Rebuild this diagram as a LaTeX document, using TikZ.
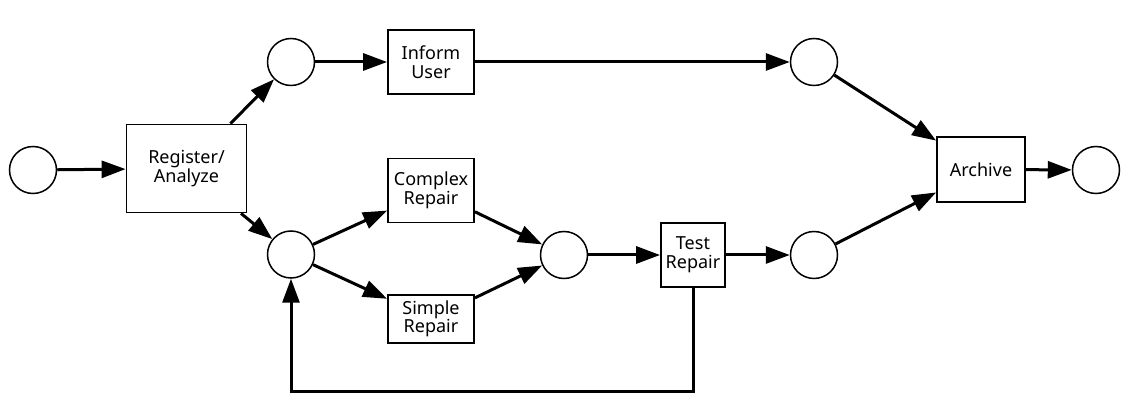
\documentclass[tikz,border=0pt]{standalone}
\usepackage{fontspec}
\setmainfont{Noto Sans}
\usetikzlibrary{arrows.meta}
\tikzset{
  place/.style={draw, circle, line width=1.5pt, minimum size=47pt, inner sep=0pt},
  transition/.style={draw, rectangle, line width=1.8pt, align=center, inner sep=0pt,
    font=\fontsize{18}{18.6}\selectfont},
  arc/.style={line width=3pt, -{Triangle[length=24pt,width=17pt]}}
}
\begin{document}
\begin{tikzpicture}[x=1pt,y=-1pt]
            \useasboundingbox (0,0) rectangle (1129,419);

            %places
            \node[place] (pStart) at (33,170) {};
            \node[place] (pInform) at (291,62) {};
            \node[place] (pRepair) at (291,254.5) {};
            \node[place] (pTest) at (564,255) {};
            \node[place] (pDone) at (814,255) {};
            \node[place] (pNotified) at (814,62) {};
            \node[place] (pEnd) at (1096,170) {};

            %transitions
            \node[transition, minimum width=120pt, minimum height=88pt] (tRegister) at (186.5,168.5) {Register/\\Analyze};
            \node[transition, minimum width=86pt, minimum height=64pt] (tInform) at (431,62) {Inform\\User};
            \node[transition, minimum width=86pt, minimum height=64pt] (tComplex) at (431,190.5) {Complex\\Repair};
            \node[transition, minimum width=86pt, minimum height=48pt] (tSimple) at (431,319) {Simple\\Repair};
            \node[transition, minimum width=64pt, minimum height=64pt] (tTest) at (693,255) {Test\\Repair};
            \node[transition, minimum width=88pt, minimum height=65pt] (tArchive) at (981,169.5) {Archive};

            \coordinate (loop) at (291,391);

            %arcs
            \draw[arc] (pStart) -- (tRegister);

            \draw[arc] (tRegister) -- (pInform);

            \draw[arc] (tRegister) -- (pRepair);

            \draw[arc] (pInform) -- (tInform);

            \draw[arc] (tInform) -- (pNotified);

            \draw[arc] (pRepair) -- (tComplex);

            \draw[arc] (pRepair) -- (tSimple);

            \draw[arc] (tComplex) -- (pTest);

            \draw[arc] (tSimple) -- (pTest);

            \draw[arc] (pTest) -- (tTest);

            \draw[arc] (tTest) -- (pDone);

            \draw[arc] (tTest) |- (loop) -- (pRepair);

            \draw[arc] (pNotified) -- (tArchive);

            \draw[arc] (pDone) -- (tArchive);

            \draw[arc] (tArchive) -- (pEnd);
        \end{tikzpicture}
\end{document}
